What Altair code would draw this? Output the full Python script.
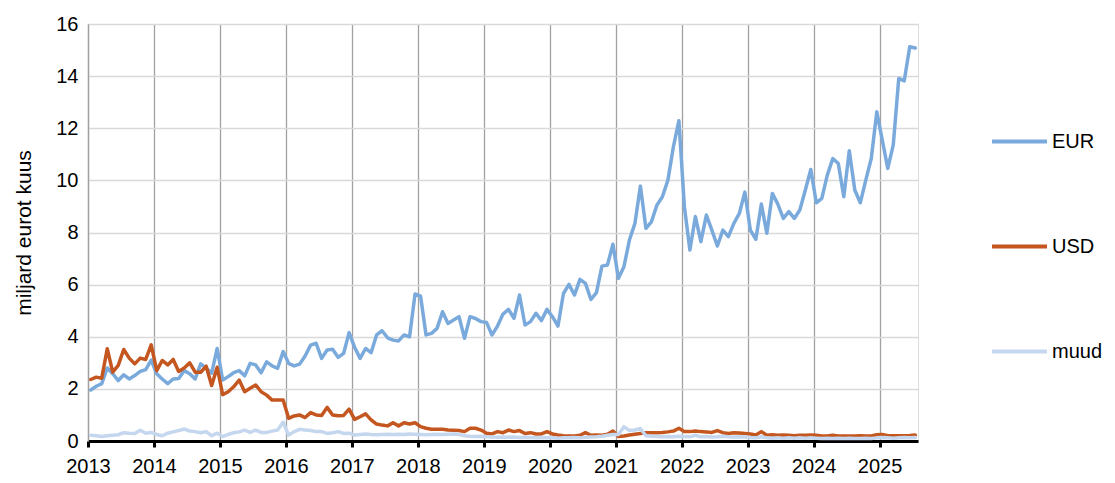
import altair as alt
import pandas as pd

START_YEAR = 2013
SERIES = ["EUR", "USD", "muud"]
COLORS = ["#7aaadc", "#c4561f", "#c5d7ee"]

EUR = [
    1.96, 2.10, 2.20, 2.80, 2.58, 2.32, 2.54, 2.38, 2.51, 2.67, 2.74, 3.10,
    2.58, 2.38, 2.20, 2.38, 2.40, 2.70, 2.58, 2.38, 2.96, 2.80, 2.60, 3.55,
    2.34, 2.47, 2.62, 2.70, 2.50, 2.98, 2.92, 2.62, 3.04, 2.88, 2.79, 3.43,
    2.98, 2.88, 2.95, 3.26, 3.68, 3.75, 3.17, 3.49, 3.52, 3.21, 3.36, 4.16,
    3.60, 3.17, 3.55, 3.39, 4.07, 4.23, 3.96, 3.87, 3.84, 4.07, 4.00, 5.64,
    5.56, 4.07, 4.13, 4.32, 4.96, 4.51, 4.64, 4.77, 3.94, 4.77, 4.70, 4.58,
    4.55, 4.07, 4.41, 4.87, 5.05, 4.71, 5.60, 4.45, 4.58, 4.90, 4.62, 5.05,
    4.77, 4.41, 5.66, 6.01, 5.60, 6.20, 6.05, 5.43, 5.69, 6.71, 6.75, 7.55,
    6.24, 6.69, 7.71, 8.35, 9.78, 8.16, 8.41, 9.05, 9.37, 10.01, 11.29, 12.29,
    8.99, 7.33, 8.61, 7.65, 8.67, 8.09, 7.48, 8.09, 7.84, 8.35, 8.73, 9.55,
    8.09, 7.74, 9.09, 7.97, 9.50, 9.09, 8.54, 8.80, 8.54, 8.86, 9.63, 10.42,
    9.14, 9.31, 10.20, 10.84, 10.65, 9.37, 11.14, 9.63, 9.14, 10.01, 10.84, 12.63,
    11.55, 10.46, 11.36, 13.91, 13.82, 15.13, 15.08,
]

USD = [
    2.36, 2.45, 2.41, 3.54, 2.64, 2.90, 3.51, 3.18, 2.96, 3.18, 3.13, 3.69,
    2.70, 3.09, 2.92, 3.13, 2.67, 2.80, 3.00, 2.64, 2.64, 2.87, 2.13, 2.83,
    1.78, 1.89, 2.08, 2.34, 1.89, 2.02, 2.15, 1.89, 1.76, 1.57, 1.57, 1.57,
    0.87, 0.96, 1.00, 0.90, 1.09, 1.00, 0.98, 1.29, 1.00, 0.97, 0.98, 1.22,
    0.83, 0.93, 1.04, 0.81, 0.65, 0.61, 0.58, 0.70, 0.58, 0.70, 0.65, 0.70,
    0.55, 0.49, 0.45, 0.45, 0.45, 0.42, 0.41, 0.40, 0.36, 0.49, 0.49, 0.42,
    0.30, 0.27, 0.36, 0.32, 0.42, 0.36, 0.40, 0.29, 0.32, 0.27, 0.27, 0.36,
    0.27, 0.23, 0.20, 0.19, 0.19, 0.22, 0.32, 0.22, 0.23, 0.22, 0.26, 0.38,
    0.17, 0.19, 0.23, 0.26, 0.29, 0.32, 0.32, 0.32, 0.33, 0.35, 0.38, 0.49,
    0.36, 0.36, 0.38, 0.36, 0.35, 0.33, 0.40, 0.32, 0.29, 0.32, 0.31, 0.29,
    0.27, 0.23, 0.36, 0.22, 0.24, 0.22, 0.23, 0.22, 0.20, 0.22, 0.22, 0.23,
    0.22, 0.19, 0.19, 0.22, 0.19, 0.19, 0.19, 0.19, 0.20, 0.19, 0.19, 0.24,
    0.25, 0.20, 0.20, 0.20, 0.20, 0.21, 0.23,
]

MUUD = [
    0.22, 0.20, 0.17, 0.20, 0.22, 0.24, 0.32, 0.30, 0.29, 0.41, 0.30, 0.33,
    0.25, 0.20, 0.30, 0.35, 0.40, 0.46, 0.38, 0.36, 0.32, 0.36, 0.20, 0.30,
    0.17, 0.25, 0.32, 0.35, 0.42, 0.33, 0.42, 0.33, 0.33, 0.38, 0.42, 0.72,
    0.23, 0.36, 0.45, 0.42, 0.40, 0.36, 0.36, 0.29, 0.32, 0.36, 0.29, 0.30,
    0.23, 0.25, 0.27, 0.25, 0.24, 0.25, 0.26, 0.25, 0.26, 0.25, 0.27, 0.26,
    0.25, 0.24, 0.25, 0.26, 0.25, 0.26, 0.27, 0.25, 0.20, 0.18, 0.17, 0.18,
    0.16, 0.15, 0.14, 0.15, 0.14, 0.15, 0.13, 0.14, 0.13, 0.12, 0.13, 0.12,
    0.12, 0.11, 0.12, 0.12, 0.13, 0.12, 0.14, 0.15, 0.16, 0.18, 0.22, 0.25,
    0.25, 0.55, 0.40, 0.42, 0.48, 0.20, 0.18, 0.17, 0.16, 0.17, 0.16, 0.18,
    0.17, 0.16, 0.22, 0.16, 0.17, 0.15, 0.16, 0.18, 0.16, 0.15, 0.16, 0.15,
    0.13, 0.12, 0.16, 0.12, 0.11, 0.12, 0.11, 0.12, 0.11, 0.12, 0.11, 0.12,
    0.11, 0.10, 0.11, 0.10, 0.11, 0.10, 0.11, 0.10, 0.10, 0.11, 0.10, 0.12,
    0.13, 0.12, 0.11, 0.12, 0.13, 0.12, 0.13,
]

N = len(EUR)
rows = []
for k, (name, vals) in enumerate(zip(SERIES, [EUR, USD, MUUD])):
    for i, v in enumerate(vals):
        rows.append({"m": i + 0.5, "v": v, "s": name, "k": k})
df = pd.DataFrame(rows)

FONT = "Liberation Sans"

chart = (
    alt.Chart(df)
    .mark_line(strokeWidth=3.5, strokeJoin="round", strokeCap="round")
    .encode(
        x=alt.X(
            "m:Q",
            scale=alt.Scale(domain=[0, N], nice=False, zero=False),
            axis=alt.Axis(
                values=list(range(0, N, 12)),
                labelExpr=f"{START_YEAR} + datum.value / 12",
                title=None,
                grid=True,
                gridColor="#a0a0a0",
                gridWidth=1.3,
                domainColor="#000000",
                domainWidth=3,
                tickColor="#000000",
                tickWidth=3,
                tickSize=6,
                labelFontSize=20,
                labelColor="#000000",
                labelFont=FONT,
                labelPadding=9,
                labelFlush=False,
            ),
        ),
        y=alt.Y(
            "v:Q",
            scale=alt.Scale(domain=[0, 16], nice=False),
            axis=alt.Axis(
                values=list(range(0, 17, 2)),
                title="miljard eurot kuus",
                titleFont=FONT,
                titleFontSize=21,
                titleFontWeight="normal",
                titleColor="#000000",
                titlePadding=21,
                grid=True,
                gridColor="#d9d9d9",
                gridWidth=1.3,
                domainColor="#a0a0a0",
                domainWidth=1.3,
                ticks=False,
                labelFontSize=20,
                labelColor="#000000",
                labelFont=FONT,
                labelPadding=10,
            ),
        ),
        color=alt.Color(
            "s:N",
            scale=alt.Scale(domain=SERIES, range=COLORS),
            legend=alt.Legend(
                title=None,
                orient="none",
                legendX=902,
                legendY=88,
                symbolType="stroke",
                symbolSize=3025,
                symbolStrokeWidth=4,
                labelFontSize=20,
                labelFont=FONT,
                labelColor="#000000",
                labelOffset=3,
                rowPadding=65,
                labelLimit=200,
            ),
        ),
        order=alt.Order("k:Q"),
    )
    .properties(
        width=830,
        height=417,
        autosize=alt.AutoSizeParams(type="none"),
        padding={"left": 80, "top": 16, "right": 189, "bottom": 34},
    )
    .configure_view(stroke=None)
    .configure(background="#ffffff")
)

chart.save("out.html", embed_options={"renderer": "svg", "actions": False})
